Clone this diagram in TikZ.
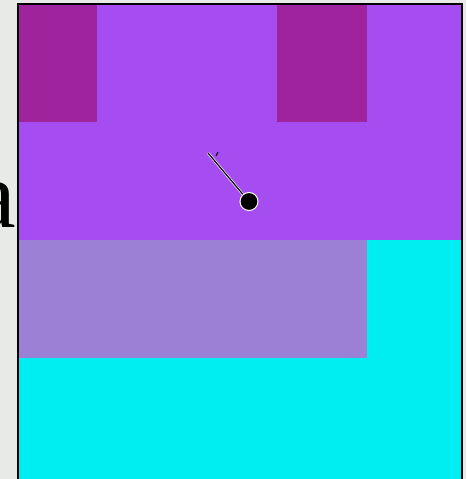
\documentclass[tikz,border=0pt]{standalone}
\usepackage{fontspec}
\setmainfont{Liberation Serif}
\definecolor{bggray}{RGB}{232,234,232}
\definecolor{cpurple}{RGB}{165,77,241}
\definecolor{cmagenta}{RGB}{160,35,158}
\definecolor{clav}{RGB}{155,128,213}
\definecolor{ccyan}{RGB}{0,238,242}
\begin{document}
\begin{tikzpicture}[x=1pt,y=-1pt,
  frameline/.style={draw=black,line width=2pt}]
\useasboundingbox (0,0) rectangle (466,479);
\fill[bggray] (0,0) rectangle (466,479);
% letter
\node[anchor=base east,inner sep=0pt,font=\fontsize{96}{96}\selectfont] (lettera) at (16.5,227) {a};
\begin{scope}
\clip (18,4) rectangle (461,479);
\fill[cpurple] (18,4) rectangle (461,240);
\fill[cmagenta] (0,4) rectangle (97,122);
\fill[cmagenta] (277,4) rectangle (367,122);
\fill[clav] (0,240) rectangle (367,358);
\fill[ccyan] (367,240) rectangle (461,358);
\fill[ccyan] (0,358) rectangle (461,479);
\end{scope}
\draw[frameline] (17.5,490) -- (17.5,3.5) -- (461.5,3.5) -- (461.5,490);
% pendulum
\coordinate (pivot) at (208,153);
\node[circle,fill=black,draw=white,line width=1pt,minimum size=18pt,inner sep=0pt] (bob) at (249,201.5) {};
\draw[white,line width=2.5pt] (pivot) -- (bob);
\draw[black,line width=1.2pt] (pivot) -- (bob);
\coordinate (tick) at (216,156);
\draw[black,line width=1pt] (tick) -- ++(2,-4);
\end{tikzpicture}
\end{document}
